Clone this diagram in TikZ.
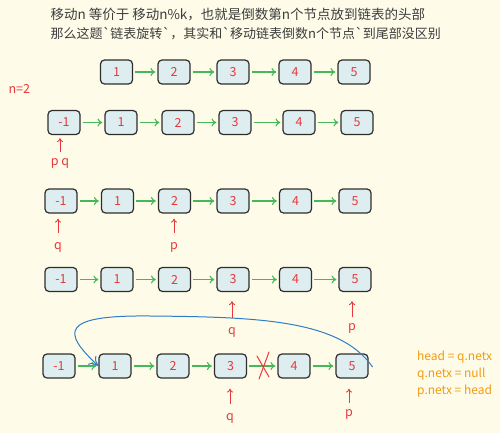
\documentclass[tikz,border=0pt]{standalone}
\usepackage{fontspec}
\setmainfont{Noto Sans CJK SC}
\usetikzlibrary{arrows.meta, positioning}
\definecolor{paper}{HTML}{FEFCE9}
\definecolor{ink}{HTML}{2E2E2E}
\definecolor{cell}{HTML}{DDEDF0}
\definecolor{numred}{HTML}{E8383B}
\definecolor{linkgreen}{HTML}{45B85A}
\definecolor{jumpblue}{HTML}{2F7CC9}
\definecolor{noteorange}{HTML}{F29A12}
\definecolor{textgray}{HTML}{3C3C3C}
\newcommand{\tick}{\textasciigrave}

\begin{document}
\begin{tikzpicture}[
        x=1pt,
        y=-1pt,
        >={To[length=5pt, width=8pt]},
        every node/.style={font=\fontsize{12.5}{14}\selectfont},
        box/.style={draw=ink, fill=cell, rounded corners=4pt, line width=1.2pt,
            minimum width=32pt, minimum height=24pt, inner sep=0pt, text=numred},
        link/.style={->, draw=linkgreen, line width=1.1pt, shorten <=2pt, shorten >=2pt},
        ptr/.style={-{To[length=4pt, width=6pt]}, draw=numred, line width=0.9pt},
        ptrlabel/.style={text=numred, inner sep=1pt},
        jump/.style={->, draw=jumpblue, line width=1pt, >={To[length=9pt, width=12pt]}},
        cut/.style={draw=numred, line width=1pt, line cap=round}
    ]
    \fill[paper] (0,0) rectangle (500,433);
    \useasboundingbox (0,0) rectangle (500,433);

    \node[anchor=west, text=textgray, font=\fontsize{13.5}{15}\selectfont] (line1) at (47,15)
        {移动n 等价于 移动n\%k，也就是倒数第n个节点放到链表的头部};
    \node[anchor=west, text=textgray, font=\fontsize{13}{15}\selectfont] (line2) at (47,34)
        {那么这题\tick 链表旋转\tick ，其实和\tick 移动链表倒数n个节点\tick 到尾部没区别};
    \node[anchor=west, text=numred] (nval) at (5,89) {n=2};

    % original list
    \node[box] (a1) at (116.5,72) {1};
    \node[box] (a2) at (174,72) {2};
    \node[box] (a3) at (233,72) {3};
    \node[box] (a4) at (295,72) {4};
    \node[box] (a5) at (354,72) {5};
    \draw[link] (a1) -- (a2);
    \draw[link] (a2) -- (a3);
    \draw[link] (a3) -- (a4);
    \draw[link] (a4) -- (a5);

    % dummy head, p and q start together
    \node[box] (b0) at (64,122.5) {-1};
    \node[box] (b1) at (121,122.5) {1};
    \node[box] (b2) at (178,122.5) {2};
    \node[box] (b3) at (235,122.5) {3};
    \node[box] (b4) at (299,122.5) {4};
    \node[box] (b5) at (357,122.5) {5};
    \draw[link] (b0) -- (b1);
    \draw[link] (b1) -- (b2);
    \draw[link] (b2) -- (b3);
    \draw[link] (b3) -- (b4);
    \draw[link] (b4) -- (b5);
    \node[ptrlabel] (pq1) at (60,163) {p q};
    \draw[ptr, shorten <=5pt, shorten >=3pt] (pq1) -- (pq1 |- b0.south);

    % p moves n steps
    \node[box] (c0) at (61,201) {-1};
    \node[box] (c1) at (117.5,201) {1};
    \node[box] (c2) at (174.5,201) {2};
    \node[box] (c3) at (233,201) {3};
    \node[box] (c4) at (295.5,201) {4};
    \node[box] (c5) at (355,201) {5};
    \draw[link] (c0) -- (c1);
    \draw[link] (c1) -- (c2);
    \draw[link] (c2) -- (c3);
    \draw[link] (c3) -- (c4);
    \draw[link] (c4) -- (c5);
    \node[ptrlabel] (q2) at (58,247) {q};
    \node[ptrlabel] (p2) at (174,247) {p};
    \draw[ptr, shorten <=8pt, shorten >=5pt] (q2) -- (q2 |- c0.south);
    \draw[ptr, shorten <=8pt, shorten >=5pt] (p2) -- (p2 |- c2.south);

    % both move until p reaches the tail
    \node[box] (d0) at (61,279.5) {-1};
    \node[box] (d1) at (117,279.5) {1};
    \node[box] (d2) at (174.5,279.5) {2};
    \node[box] (d3) at (233,279.5) {3};
    \node[box] (d4) at (295.5,279.5) {4};
    \node[box] (d5) at (355,279.5) {5};
    \draw[link] (d0) -- (d1);
    \draw[link] (d1) -- (d2);
    \draw[link] (d2) -- (d3);
    \draw[link] (d3) -- (d4);
    \draw[link] (d4) -- (d5);
    \node[ptrlabel] (q3) at (232,332) {q};
    \node[ptrlabel] (p3) at (352,328) {p};
    \draw[ptr, shorten <=8pt, shorten >=9pt] (q3) -- (q3 |- d3.south);
    \draw[ptr, shorten <=5pt, shorten >=9pt] (p3) -- (p3 |- d5.south);

    % relink
    \node[box] (e0) at (59,366) {-1};
    \node[box] (e1) at (115,366) {1};
    \node[box] (e2) at (173,366) {2};
    \node[box] (e3) at (230.5,366) {3};
    \node[box] (e4) at (294,366) {4};
    \node[box] (e5) at (352,366) {5};
    \draw[link] (e0) -- (e1);
    \draw[link] (e1) -- (e2);
    \draw[link] (e2) -- (e3);
    \draw[link] (e3) -- (e4);
    \draw[link] (e4) -- (e5);
    \draw[cut] (257,356) -- (269,377);
    \draw[cut] (269,352) -- (259,379);
    \node[ptrlabel] (q4) at (230,418) {q};
    \node[ptrlabel] (p4) at (349,414) {p};
    \draw[ptr, shorten <=8pt, shorten >=10pt] (q4) -- (q4 |- e3.south);
    \draw[ptr, shorten <=5pt, shorten >=10pt] (p4) -- (p4 |- e5.south);
    \draw[jump] ([xshift=4pt, yshift=-1pt]e5.east) .. controls (340,320) and (260,317) .. (150,316)
        .. controls (60,315) and (62,332) .. (e1.west);

    \node[anchor=north west, align=left, text=noteorange, inner sep=0pt,
        font=\fontsize{12}{17}\selectfont] (notes) at (417,351)
        {head = q.netx\\q.netx = null\\p.netx = head};
\end{tikzpicture}
\end{document}
